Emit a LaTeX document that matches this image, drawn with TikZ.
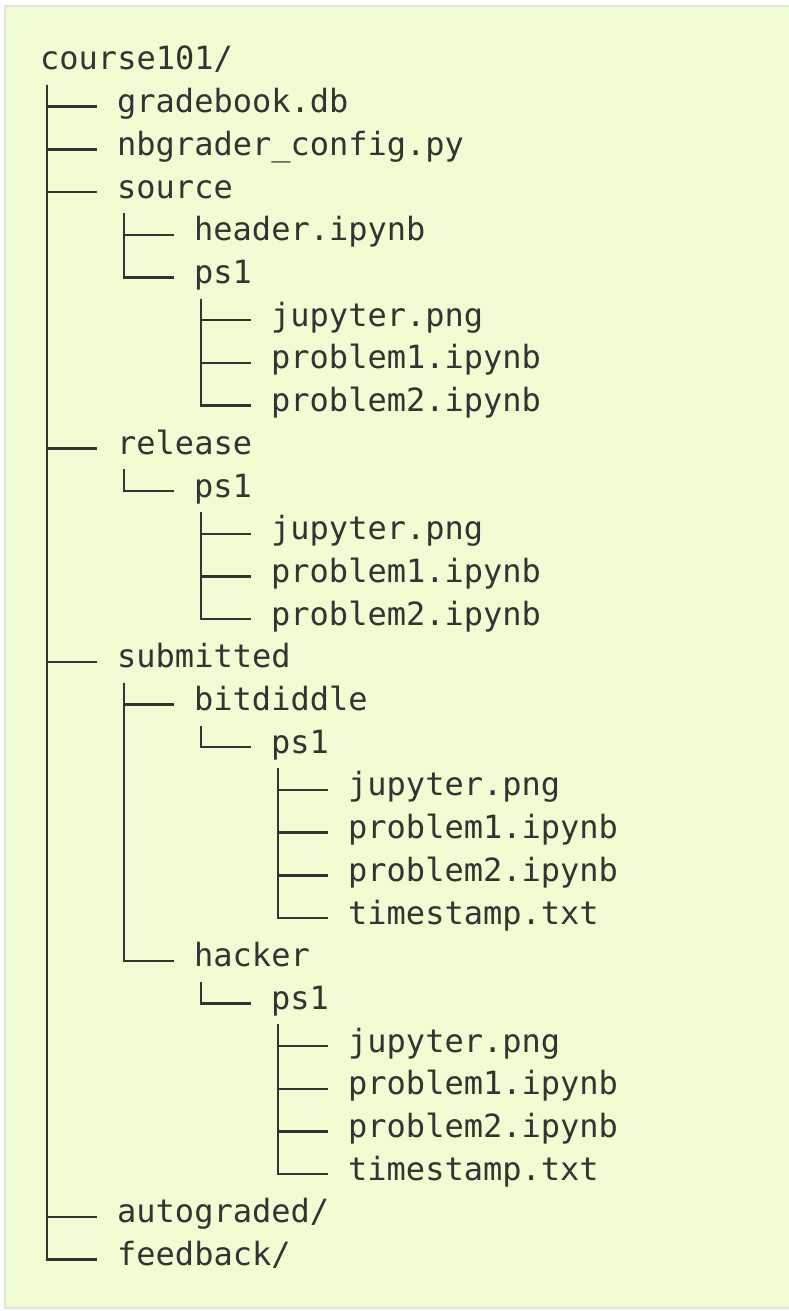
\documentclass[tikz,border=0pt]{standalone}
\usepackage{fontspec}
\setmonofont{DejaVu Sans Mono}
\definecolor{panelgreen}{HTML}{F0FCD2}
\definecolor{panelrim}{HTML}{E2E2E2}
\definecolor{inkgray}{HTML}{333333}
\begin{document}
\begin{tikzpicture}
[
    x=1pt, y=-1pt,
    entry/.style={anchor=base west,inner sep=0pt,text=inkgray,font=\ttfamily\fontsize{32}{40}\selectfont},
    branch/.style={draw=inkgray,line width=2.4pt},
]
\useasboundingbox (0,0) rectangle (789,1311);
\filldraw[fill=panelgreen,draw=panelrim,line width=2pt] (4.5,6) rectangle (795,1308);

\node[entry] (root) at (40,70) {course101/};
\node[entry] (gradebook) at (117,112.7) {gradebook.db};
\node[entry] (config) at (117,155.4) {nbgrader\_config.py};
\node[entry] (source) at (117,198.1) {source};
\node[entry] (srcheader) at (194,240.8) {header.ipynb};
\node[entry] (srcps) at (194,283.5) {ps1};
\node[entry] (srcjup) at (271,326.2) {jupyter.png};
\node[entry] (srcpa) at (271,368.9) {problem1.ipynb};
\node[entry] (srcpb) at (271,411.6) {problem2.ipynb};
\node[entry] (release) at (117,454.3) {release};
\node[entry] (relps) at (194,497) {ps1};
\node[entry] (reljup) at (271,539.7) {jupyter.png};
\node[entry] (relpa) at (271,582.4) {problem1.ipynb};
\node[entry] (relpb) at (271,625.1) {problem2.ipynb};
\node[entry] (submitted) at (117,667.8) {submitted};
\node[entry] (bit) at (194,710.5) {bitdiddle};
\node[entry] (bitps) at (271,753.2) {ps1};
\node[entry] (bitjup) at (348,795.9) {jupyter.png};
\node[entry] (bitpa) at (348,838.6) {problem1.ipynb};
\node[entry] (bitpb) at (348,881.3) {problem2.ipynb};
\node[entry] (bitts) at (348,924) {timestamp.txt};
\node[entry] (hacker) at (194,966.7) {hacker};
\node[entry] (hackps) at (271,1009.4) {ps1};
\node[entry] (hackjup) at (348,1052.1) {jupyter.png};
\node[entry] (hackpa) at (348,1094.8) {problem1.ipynb};
\node[entry] (hackpb) at (348,1137.5) {problem2.ipynb};
\node[entry] (hackts) at (348,1180.2) {timestamp.txt};
\node[entry] (autograded) at (117,1222.9) {autograded/};
\node[entry] (feedback) at (117,1265.6) {feedback/};

% tree lines
\draw[branch] ([xshift=7pt,yshift=-15pt]root.base west) |- ([xshift=-20pt,yshift=6pt]gradebook.base west);
\draw[branch] ([xshift=7pt,yshift=-15pt]root.base west) |- ([xshift=-20pt,yshift=6pt]config.base west);
\draw[branch] ([xshift=7pt,yshift=-15pt]root.base west) |- ([xshift=-20pt,yshift=6pt]source.base west);
\draw[branch] ([xshift=7pt,yshift=-15pt]root.base west) |- ([xshift=-20pt,yshift=6pt]release.base west);
\draw[branch] ([xshift=7pt,yshift=-15pt]root.base west) |- ([xshift=-20pt,yshift=6pt]submitted.base west);
\draw[branch] ([xshift=7pt,yshift=-15pt]root.base west) |- ([xshift=-20pt,yshift=6pt]autograded.base west);
\draw[branch] ([xshift=7pt,yshift=-15pt]root.base west) |- ([xshift=-20pt,yshift=6pt]feedback.base west);

\draw[branch] ([xshift=7pt,yshift=-15pt]source.base west) |- ([xshift=-20pt,yshift=6pt]srcheader.base west);
\draw[branch] ([xshift=7pt,yshift=-15pt]source.base west) |- ([xshift=-20pt,yshift=6pt]srcps.base west);
\draw[branch] ([xshift=7pt,yshift=-15pt]srcps.base west) |- ([xshift=-20pt,yshift=6pt]srcjup.base west);
\draw[branch] ([xshift=7pt,yshift=-15pt]srcps.base west) |- ([xshift=-20pt,yshift=6pt]srcpa.base west);
\draw[branch] ([xshift=7pt,yshift=-15pt]srcps.base west) |- ([xshift=-20pt,yshift=6pt]srcpb.base west);

\draw[branch] ([xshift=7pt,yshift=-15pt]release.base west) |- ([xshift=-20pt,yshift=6pt]relps.base west);
\draw[branch] ([xshift=7pt,yshift=-15pt]relps.base west) |- ([xshift=-20pt,yshift=6pt]reljup.base west);
\draw[branch] ([xshift=7pt,yshift=-15pt]relps.base west) |- ([xshift=-20pt,yshift=6pt]relpa.base west);
\draw[branch] ([xshift=7pt,yshift=-15pt]relps.base west) |- ([xshift=-20pt,yshift=6pt]relpb.base west);

\draw[branch] ([xshift=7pt,yshift=-15pt]submitted.base west) |- ([xshift=-20pt,yshift=6pt]bit.base west);
\draw[branch] ([xshift=7pt,yshift=-15pt]submitted.base west) |- ([xshift=-20pt,yshift=6pt]hacker.base west);
\draw[branch] ([xshift=7pt,yshift=-15pt]bit.base west) |- ([xshift=-20pt,yshift=6pt]bitps.base west);
\draw[branch] ([xshift=7pt,yshift=-15pt]bitps.base west) |- ([xshift=-20pt,yshift=6pt]bitjup.base west);
\draw[branch] ([xshift=7pt,yshift=-15pt]bitps.base west) |- ([xshift=-20pt,yshift=6pt]bitpa.base west);
\draw[branch] ([xshift=7pt,yshift=-15pt]bitps.base west) |- ([xshift=-20pt,yshift=6pt]bitpb.base west);
\draw[branch] ([xshift=7pt,yshift=-15pt]bitps.base west) |- ([xshift=-20pt,yshift=6pt]bitts.base west);
\draw[branch] ([xshift=7pt,yshift=-15pt]hacker.base west) |- ([xshift=-20pt,yshift=6pt]hackps.base west);
\draw[branch] ([xshift=7pt,yshift=-15pt]hackps.base west) |- ([xshift=-20pt,yshift=6pt]hackjup.base west);
\draw[branch] ([xshift=7pt,yshift=-15pt]hackps.base west) |- ([xshift=-20pt,yshift=6pt]hackpa.base west);
\draw[branch] ([xshift=7pt,yshift=-15pt]hackps.base west) |- ([xshift=-20pt,yshift=6pt]hackpb.base west);
\draw[branch] ([xshift=7pt,yshift=-15pt]hackps.base west) |- ([xshift=-20pt,yshift=6pt]hackts.base west);
\end{tikzpicture}
\end{document}
